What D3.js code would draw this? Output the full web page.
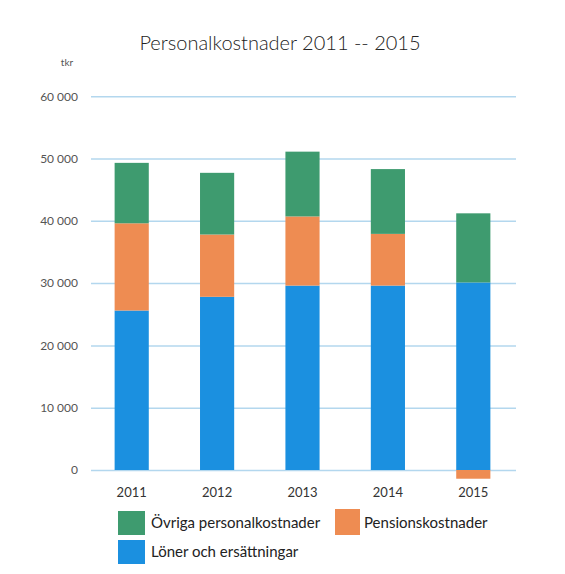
<!DOCTYPE html>
<html>
<head>
<meta charset="utf-8">
<script src="https://cdn.jsdelivr.net/npm/d3@7"></script>
<style>
  body { margin: 0; background: #fff; }
  text { font-family: Lato, "Open Sans", sans-serif; fill: #333; }
</style>
</head>
<body>
<div id="chart"></div>
<script>
// data (tkr)
var years = ["2011", "2012", "2013", "2014", "2015"];
var loner = [25600, 27800, 29600, 29600, 30100];
var pension = [14000, 10000, 11100, 8300, -1400];
var ovriga = [9700, 9900, 10400, 10400, 11100];
var yTicks = [0, 10000, 20000, 30000, 40000, 50000, 60000];

var seriesKeys = ["loner", "pension", "ovriga"];
var seriesNames = ["Löner och ersättningar", "Pensionskostnader", "Övriga personalkostnader"];
var seriesColors = ["#1b90e0", "#ee8c52", "#3e9b6f"];

var width = 565, height = 574;

var rows = years.map(function(y, i) {
  return {year: y, loner: loner[i], pension: pension[i], ovriga: ovriga[i]};
});

var svg = d3.select("#chart").append("svg")
    .attr("width", width)
    .attr("height", height);

var x = d3.scaleBand()
    .domain(years)
    .range([89, 516])
    .paddingInner(0.6)
    .paddingOuter(0.3);

var y = d3.scaleLinear()
    .domain([0, 60000])
    .range([470, 96.2]);

var color = d3.scaleOrdinal().domain(seriesKeys).range(seriesColors);

var fmt = d3.formatLocale({decimal: ",", thousands: " ", grouping: [3], currency: ["", " kr"]}).format(",d");

// gridlines + y labels
var yAxis = svg.append("g")
    .attr("transform", "translate(91,0)")
    .call(d3.axisLeft(y).tickValues(yTicks).tickSize(-425).tickPadding(13).tickFormat(fmt));
yAxis.select(".domain").remove();
yAxis.selectAll("line").attr("stroke", "#b3d7ee").attr("stroke-width", 1.5);
yAxis.selectAll("text").style("font-size", "12px").style("fill", "#555");

svg.append("text")
    .attr("x", 67).attr("y", 66)
    .attr("text-anchor", "middle")
    .style("font-size", "10px")
    .style("fill", "#555")
    .text("tkr");

// stacked bars
var stack = d3.stack().keys(seriesKeys).offset(d3.stackOffsetDiverging);
var layers = stack(rows);

svg.selectAll(".layer")
    .data(layers)
  .enter().append("g")
    .attr("class", "layer")
    .attr("fill", function(d) { return color(d.key); })
  .selectAll("rect")
    .data(function(d) { return d; })
  .enter().append("rect")
    .attr("x", function(d) { return x(d.data.year); })
    .attr("width", x.bandwidth())
    .attr("y", function(d) { return y(Math.max(d[0], d[1])); })
    .attr("height", function(d) { return Math.abs(y(d[0]) - y(d[1])); });

// x labels
var xAxis = svg.append("g")
    .attr("transform", "translate(0,470)")
    .call(d3.axisBottom(x).tickSize(0).tickPadding(18));
xAxis.select(".domain").remove();
xAxis.selectAll("text").style("font-size", "13px").style("fill", "#333");

// title
svg.append("text")
    .attr("x", 280).attr("y", 50)
    .attr("text-anchor", "middle")
    .style("font-size", "20px")
    .style("font-weight", "300")
    .style("fill", "#222")
    .text("Personalkostnader 2011 -- 2015");

// legend
var legend = [
  {key: "ovriga", sx: 118, sy: 511, w: 27, h: 24, tx: 151, ty: 528},
  {key: "pension", sx: 335, sy: 509, w: 25, h: 26, tx: 364, ty: 528},
  {key: "loner", sx: 118, sy: 540, w: 27, h: 24, tx: 151, ty: 557}
];
var lg = svg.selectAll(".lg")
    .data(legend)
  .enter().append("g")
    .attr("class", "lg");
lg.append("rect")
    .attr("x", function(d) { return d.sx; })
    .attr("y", function(d) { return d.sy; })
    .attr("width", function(d) { return d.w; })
    .attr("height", function(d) { return d.h; })
    .attr("fill", function(d) { return color(d.key); });
lg.append("text")
    .attr("x", function(d) { return d.tx; })
    .attr("y", function(d) { return d.ty; })
    .style("font-size", "15px")
    .style("fill", "#222")
    .text(function(d) { return seriesNames[seriesKeys.indexOf(d.key)]; });
</script>
</body>
</html>
